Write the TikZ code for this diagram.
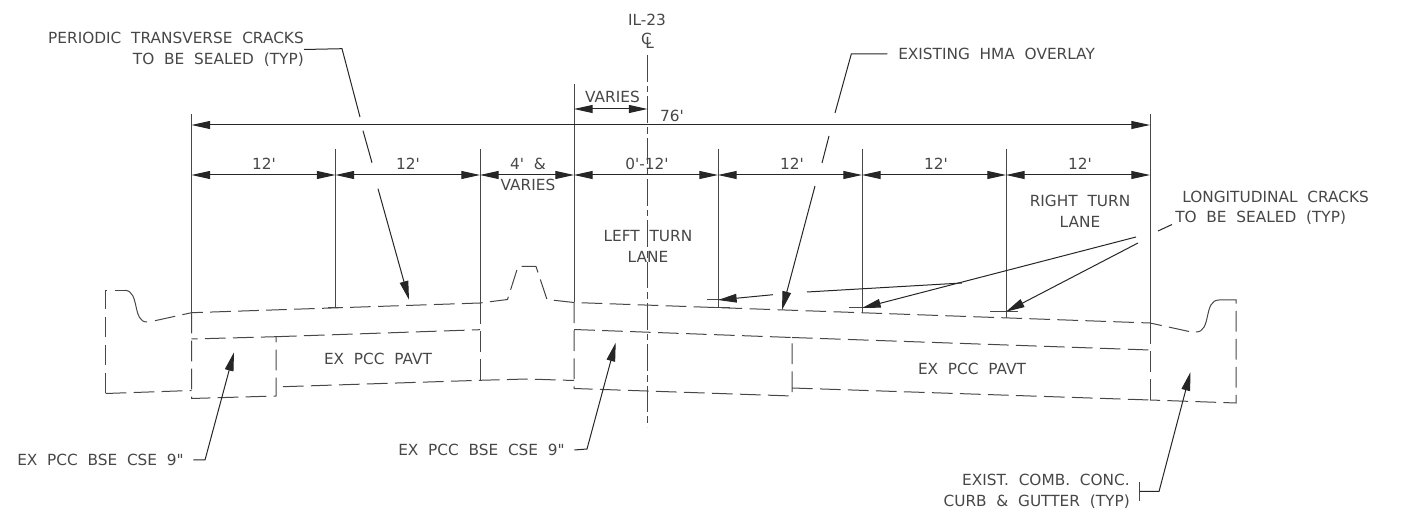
\documentclass[tikz,border=0pt]{standalone}
\usepackage{fontspec}
\setmainfont[WordSpace=2,Ligatures=TeXOff]{DejaVu Sans}
\usetikzlibrary{arrows.meta}
\definecolor{inkgray}{rgb}{0.28,0.28,0.28}
\tikzset{
  solidline/.style={color=inkgray,line width=0.75pt},
  dashline/.style={color=inkgray,line width=0.75pt,dash pattern={on 15.5pt off 5.5pt}},
  centerline/.style={color=inkgray,line width=0.75pt,dash pattern={on 20pt off 3pt on 5pt off 3pt}},
  dimline/.style={solidline,{Triangle[length=14pt,width=6pt]}-{Triangle[length=14pt,width=6pt]},black!85},
  leaderline/.style={solidline,black!85},
  leadertip/.style={solidline,black!85,-{Triangle[length=14pt,width=6.5pt]}},
  lbl/.style={color=inkgray,inner sep=0pt,font=\fontsize{11.5}{15.75}\selectfont},
}
\begin{document}
\begin{tikzpicture}[x=0.75pt,y=0.75pt,yscale=-1,xscale=1]
\useasboundingbox (0,0) rectangle (1407,509);

% Dimension row ends
\coordinate (rowa) at (191.5,175);
\coordinate (rowb) at (335.5,175);
\coordinate (rowc) at (480,175);
\coordinate (rowd) at (574,175);
\coordinate (rowe) at (718,175);
\coordinate (rowf) at (862,175);
\coordinate (rowg) at (1006,175);
\coordinate (rowh) at (1150,175);
\coordinate (widea) at (191.5,125);
\coordinate (wideb) at (1150,125);
\coordinate (variesa) at (574,109);
\coordinate (variesb) at (647.5,109);

% Extension Lines
\draw [solidline] (191.5,114) -- (191.5,312.7);
\draw [solidline] (335.5,149) -- (335.5,307.5);
\draw [solidline] (480,149) -- (480,303);
\draw [solidline] (574,84) -- (574,302.5);
\draw [solidline] (718,149) -- (718,308);
\draw [solidline] (862,149) -- (862,313);
\draw [solidline] (1006,149) -- (1006,318);
\draw [solidline] (1150,114) -- (1150,323);

% Center Line
\draw [centerline] (647.5,55) -- (647.5,427);

% Dimension Lines
\draw [dimline] (widea) -- (wideb);
\draw [dimline] (variesa) -- (variesb);
\draw [dimline] (rowa) -- (rowb);
\draw [dimline] (rowb) -- (rowc);
\draw [dimline] (rowc) -- (rowd);
\draw [dimline] (rowd) -- (rowe);
\draw [dimline] (rowe) -- (rowf);
\draw [dimline] (rowf) -- (rowg);
\draw [dimline] (rowg) -- (rowh);

% Pavement Surface
\draw [dashline] (105.7,393.5) -- (105.7,290.3) -- (125,290.3);
\draw [solidline] (125,290.3) .. controls (140,291) and (132,322) .. (147,322);
\draw [dashline] (155,320.7) -- (191.5,312.7) -- (480,303) -- (507.5,299.5) -- (518,266.5) -- (536,266.5) -- (547,299.5) -- (574,302.5) -- (1150,323) -- (1190,331.7);
\draw [solidline] (1196,332) .. controls (1212,332) and (1203,300) .. (1219,300);
\draw [dashline] (1219,300) -- (1236,300) -- (1236,403) -- (1150,400);

% Slab Left
\draw [dashline] (105.7,393.5) -- (191.5,390.5);
\draw [dashline] (191.5,312.7) -- (191.5,398.5) -- (276,396) -- (276,336.7) -- (191.5,339);
\draw [dashline] (276,336.7) -- (480,329.7);
\draw [dashline] (283,386.7) -- (480,380.3) -- (527,379) -- (574,380.5);
\draw [dashline] (480,303) -- (480,380.3);

% Slab Right
\draw [dashline] (574,302.5) -- (574,388.5) -- (792,396) -- (792,337.5) -- (574,329.5);
\draw [dashline] (792,337.5) -- (1150,350);
\draw [dashline] (792,388) -- (1150,400);
\draw [dashline] (1150,323) -- (1150,400);

% Small Ticks
\draw [solidline] (328,307.5) -- (343,307.5);
\draw [solidline] (707,300) -- (732,300);
\draw [solidline] (710,308) -- (730,308);
\draw [solidline] (849,308) -- (875,308);
\draw [solidline] (990,311.7) -- (1018,311.7);
\draw [solidline] (1139.5,482) -- (1139.5,501.5);

% Text Node
\draw (647,20) node (routelbl) [lbl] {IL-23};
\draw (647.5,41) node (clsym) [lbl] {C\kern-0.42em\raisebox{-3pt}{L}};
\draw (612.5,97) node (varieslbl) [lbl] {VARIES};
\draw (672,116) node (widelbl) [lbl] {76'};
\draw (264,164) node (lanea) [lbl] {12'};
\draw (408,164) node (laneb) [lbl] {12'};
\draw (528,174.5) node (medianlbl) [lbl,align=center] {4' \&\\VARIES};
\draw (647,164) node (lanec) [lbl] {0'-12'};
\draw (792,164) node (laned) [lbl] {12'};
\draw (936,164) node (lanee) [lbl] {12'};
\draw (1080,164) node (lanef) [lbl] {12'};
\draw (1080,211.5) node (rightturn) [lbl,align=center] {RIGHT TURN\\LANE};
\draw (648,246.5) node (leftturn) [lbl,align=center] {LEFT TURN\\LANE};
\draw (378,359) node (pavta) [lbl] {EX PCC PAVT};
\draw (972,369) node (pavtb) [lbl] {EX PCC PAVT};
\draw (304,49.5) node [anchor=east] (crackstrans) [lbl,align=right] {PERIODIC TRANSVERSE CRACKS\\TO BE SEALED (TYP)};
\draw (898,54) node [anchor=west] (hmalbl) [lbl] {EXISTING HMA OVERLAY};
\draw (1182,197) node [anchor=west] (crackslong) [lbl] {LONGITUDINAL CRACKS};
\draw (1175,218) node [anchor=west] (crackslongb) [lbl] {TO BE SEALED (TYP)};
\draw (184,460) node [anchor=east] (bsea) [lbl] {EX PCC BSE CSE 9"};
\draw (565,450) node [anchor=east] (bseb) [lbl] {EX PCC BSE CSE 9"};
\draw (1130,491) node [anchor=east] (curblbl) [lbl,align=right] {EXIST. COMB. CONC.\\CURB \& GUTTER (TYP)};

% Leader Points
\coordinate (transbend) at (342,48.7);
\coordinate (transa) at (360,117);
\coordinate (transb) at (363,130.7);
\coordinate (transc) at (372,162.7);
\coordinate (transd) at (378,188.7);
\coordinate (transtip) at (409,299.7);
\coordinate (hmabend) at (851.3,54);
\coordinate (hmaa) at (835,113);
\coordinate (hmab) at (829,136);
\coordinate (hmac) at (822,163);
\coordinate (hmad) at (815,186);
\coordinate (hmatip) at (782,310);
\coordinate (longa) at (1158,231);
\coordinate (longb) at (1172,224.5);
\coordinate (longc) at (1136,237);
\coordinate (longd) at (1138,243);
\coordinate (longe) at (962,283);
\coordinate (longf) at (807,292);
\coordinate (longg) at (773,294.7);
\coordinate (tipe) at (718,300);
\coordinate (tipf) at (862,308);
\coordinate (tipg) at (1006,311.7);
\coordinate (bseabend) at (205,460);
\coordinate (bseatip) at (234,352.3);
\coordinate (bsebbend) at (587,449);
\coordinate (bsebtip) at (615.7,342.7);
\coordinate (curbbend) at (1159,491.5);
\coordinate (curbtip) at (1190.5,372);

% Leaders
\draw [leaderline] (crackstrans.east) -- (transbend) -- (transa);
\draw [leaderline] (transb) -- (transc);
\draw [leadertip] (transd) -- (transtip);
\draw [leaderline] ([xshift=-8pt]hmalbl.west) -- (hmabend) -- (hmaa);
\draw [leaderline] (hmab) -- (hmac);
\draw [leadertip] (hmad) -- (hmatip);
\draw [leaderline] (longa) -- (longb);
\draw [leadertip] (longc) -- (tipf);
\draw [leadertip] (longd) -- (tipg);
\draw [leaderline] (longe) -- (longf);
\draw [leadertip] (longg) -- (tipe);
\draw [leadertip] ([xshift=7pt]bsea.east) -- (bseabend) -- (bseatip);
\draw [leadertip] ([xshift=7pt]bseb.east) -- (bsebbend) -- (bsebtip);
\draw [leadertip] (1139.5,491.5) -- (curbbend) -- (curbtip);

\end{tikzpicture}
\end{document}
